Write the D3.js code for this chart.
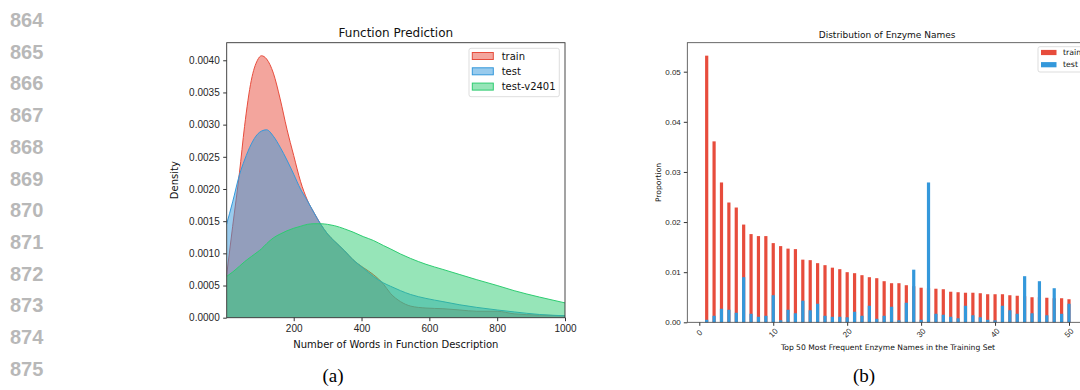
<!DOCTYPE html>
<html>
<head>
<meta charset="utf-8">
<script src="https://cdn.jsdelivr.net/npm/d3@7"></script>
<style>
  body { margin: 0; background: #fff; }
  svg { display: block; font-family: "DejaVu Sans", sans-serif; }
  .tick text { fill: #262626; }
  .tick line { stroke: #333; }
</style>
</head>
<body>
<div class="fig"></div>
<script>
// ---- left panel: word count density (KDE)
const wordCounts = [2, 20, 40, 55, 75, 93, 105, 120, 140, 160, 180, 200, 220, 240, 260, 280, 300, 320, 350, 375, 405, 435, 465, 485, 515, 545, 590, 640, 690, 740, 800, 850, 925, 1000];
const trainDensity = [0.00065, 0.00142, 0.00225, 0.00297, 0.00369, 0.00400, 0.00407, 0.00402, 0.00380, 0.00340, 0.00293, 0.00252, 0.00212, 0.00183, 0.00163, 0.00145, 0.00130, 0.00119, 0.00104, 0.00090, 0.00078, 0.00067, 0.00052, 0.00038, 0.00025, 0.00018, 0.00015, 0.00014, 0.00012, 0.00010, 0.00010, 0.00006, 0.00004, 0.00003];
const testDensity = [0.00145, 0.00180, 0.00222, 0.00245, 0.00270, 0.00285, 0.00290, 0.00292, 0.00282, 0.00265, 0.00245, 0.00223, 0.00200, 0.00182, 0.00163, 0.00145, 0.00130, 0.00119, 0.00104, 0.00090, 0.00077, 0.00064, 0.00054, 0.00049, 0.00042, 0.00036, 0.00030, 0.00025, 0.00020, 0.00016, 0.00012, 0.00009, 0.00005, 0.00003];
const v2401Density = [0.00064, 0.00071, 0.00080, 0.00087, 0.00095, 0.00102, 0.00107, 0.00115, 0.00124, 0.00130, 0.00135, 0.00139, 0.00142, 0.00145, 0.00146, 0.00146, 0.00145, 0.00143, 0.00138, 0.00133, 0.00126, 0.00120, 0.00112, 0.00107, 0.00099, 0.00092, 0.00083, 0.00075, 0.00067, 0.00059, 0.00050, 0.00042, 0.00032, 0.00023];
const densityTicks = [0, 0.0005, 0.001, 0.0015, 0.002, 0.0025, 0.003, 0.0035, 0.004];
const wordTicks = [200, 400, 600, 800, 1000];
const kdeNames = ["train", "test", "test-v2401"];

// ---- right panel: enzyme name proportions
const enzymeRank = [1,2,3,4,5,6,7,8,9,10,11,12,13,14,15,16,17,18,19,20,21,22,23,24,25,26,27,28,29,30,31,32,33,34,35,36,37,38,39,40,41,42,43,44,45,46,47,48,49,50];
const trainProp = [0.0532, 0.0361, 0.0279, 0.0239, 0.0229, 0.0195, 0.0176, 0.0172, 0.0172, 0.0158, 0.0152, 0.0147, 0.0146, 0.0125, 0.0124, 0.0118, 0.0114, 0.0109, 0.0106, 0.0100, 0.0098, 0.0094, 0.0090, 0.0088, 0.0082, 0.0078, 0.0078, 0.0074, 0.0072, 0.0069, 0.0068, 0.0067, 0.0066, 0.0061, 0.0060, 0.0059, 0.0059, 0.0058, 0.0056, 0.0056, 0.0056, 0.0054, 0.0053, 0.0052, 0.0050, 0.0050, 0.0049, 0.0048, 0.0048, 0.0046];
const testProp = [0.0005, 0.0013, 0.0027, 0.0025, 0.0019, 0.0090, 0.0017, 0.0011, 0.0013, 0.0054, 0.0004, 0.0025, 0.0018, 0.0043, 0.0024, 0.0037, 0.0013, 0.0011, 0.0011, 0.0010, 0.0021, 0.0013, 0.0033, 0.0007, 0.0013, 0.0031, 0.0004, 0.0039, 0.0105, 0.0005, 0.0279, 0.0017, 0.0015, 0.0011, 0.0008, 0.0033, 0.0014, 0.0010, 0.0005, 0.0004, 0.0033, 0.0024, 0.0017, 0.0092, 0.0018, 0.0082, 0.0014, 0.0068, 0.0017, 0.0037];
const propTicks = [0, 0.01, 0.02, 0.03, 0.04, 0.05];
const rankTicks = [0, 10, 20, 30, 40, 50];
const barNames = ["train", "test"];

const lineNumbers = [864, 865, 866, 867, 868, 869, 870, 871, 872, 873, 874, 875];

const red = "#e74c3c", blue = "#3498db", green = "#2ecc71";

const svg = d3.select(".fig").append("svg")
    .attr("width", 1080)
    .attr("height", 390);

//line numbers down the margin
svg.selectAll(".ln")
    .data(lineNumbers)
    .enter().append("text")
    .attr("class", "ln")
    .attr("x", 10)
    .attr("y", (d, i) => 27 + i * 31.7)
    .style("font-family", "'Liberation Sans', Arial, sans-serif")
    .style("font-size", "20px")
    .style("font-weight", "bold")
    .style("fill", "#b8b8b8")
    .text(d => d);

// ================= left panel =================
var L = { left: 226.7, right: 565, top: 42.7, bottom: 317.7 };
var xL = d3.scaleLinear().domain([2.4, 1000]).range([L.left, L.right]);
var yL = d3.scaleLinear().domain([0, 0.004273]).range([L.bottom, L.top]);

var gL = svg.append("g");

gL.append("clipPath").attr("id", "clipL")
    .append("rect")
    .attr("x", L.left).attr("y", L.top)
    .attr("width", L.right - L.left).attr("height", L.bottom - L.top);

var series = [trainDensity, testDensity, v2401Density];
var colors = [red, blue, green];

var area = d3.area()
    .x((d, i) => xL(wordCounts[i]))
    .y0(yL(0))
    .y1(d => yL(d))
    .curve(d3.curveMonotoneX);
var line = d3.line()
    .x((d, i) => xL(wordCounts[i]))
    .y(d => yL(d))
    .curve(d3.curveMonotoneX);

var plot = gL.append("g").attr("clip-path", "url(#clipL)");
series.forEach(function (s, k) {
    plot.append("path")
        .attr("d", area(s))
        .style("fill", colors[k])
        .style("fill-opacity", 0.5);
    plot.append("path")
        .attr("d", line(s))
        .style("fill", "none")
        .style("stroke", colors[k])
        .style("stroke-width", 1);
});

gL.append("g")
    .attr("transform", "translate(0," + L.bottom + ")")
    .call(d3.axisBottom(xL).tickValues(wordTicks).tickFormat(d3.format("d")).tickSize(3.5).tickPadding(3.5))
    .call(g => g.select(".domain").remove())
    .selectAll("text").style("font-size", "10px");

gL.append("g")
    .attr("transform", "translate(" + L.left + ",0)")
    .call(d3.axisLeft(yL).tickValues(densityTicks).tickFormat(d3.format(".4f")).tickSize(3.5).tickPadding(3.5))
    .call(g => g.select(".domain").remove())
    .selectAll("text").style("font-size", "10px");

gL.append("rect")
    .attr("x", L.left).attr("y", L.top)
    .attr("width", L.right - L.left).attr("height", L.bottom - L.top)
    .style("fill", "none").style("stroke", "#333").style("stroke-width", 0.9);

gL.append("text")
    .attr("x", (L.left + L.right) / 2).attr("y", 36.5)
    .attr("text-anchor", "middle")
    .style("font-size", "12px").style("fill", "#111")
    .text("Function Prediction");

gL.append("text")
    .attr("x", (L.left + L.right) / 2).attr("y", 348)
    .attr("text-anchor", "middle")
    .style("font-size", "10px").style("fill", "#111")
    .text("Number of Words in Function Description");

gL.append("text")
    .attr("transform", "translate(177.5," + ((L.top + L.bottom) / 2) + ") rotate(-90)")
    .attr("text-anchor", "middle")
    .style("font-size", "10px").style("fill", "#111")
    .text("Density");

//legend
var legL = gL.append("g").attr("transform", "translate(469,48.3)");
legL.append("rect")
    .attr("width", 90.3).attr("height", 48.4).attr("rx", 2)
    .style("fill", "#fff").style("fill-opacity", 0.8)
    .style("stroke", "#d4d4d4").style("stroke-width", 0.8);
kdeNames.forEach(function (n, k) {
    var cy = 7.7 + k * 15.3;
    legL.append("rect")
        .attr("x", 3.3).attr("y", cy - 3.5)
        .attr("width", 21).attr("height", 7)
        .style("fill", colors[k]).style("fill-opacity", 0.5)
        .style("stroke", colors[k]).style("stroke-width", 1);
    legL.append("text")
        .attr("x", 32.7).attr("y", cy + 3.6)
        .style("font-size", "10px").style("fill", "#111")
        .text(n);
});

// ================= right panel =================
var R = { left: 687.3, top: 42.7, bottom: 322.3 };
var xR = d3.scaleLinear().domain([0, 50]).range([699.3, 1069]);
var yR = d3.scaleLinear().domain([0, 0.05]).range([R.bottom, 71.7]);
R.right = xR(51.62);

var gR = svg.append("g");
var barW = 3.2;

gR.selectAll(".train")
    .data(trainProp)
    .enter().append("rect")
    .attr("class", "train")
    .attr("x", (d, i) => xR(enzymeRank[i]) - barW / 2)
    .attr("y", d => yR(d))
    .attr("width", barW)
    .attr("height", d => yR(0) - yR(d))
    .style("fill", red);

gR.selectAll(".test")
    .data(testProp)
    .enter().append("rect")
    .attr("class", "test")
    .attr("x", (d, i) => xR(enzymeRank[i]) - barW / 2)
    .attr("y", d => yR(d))
    .attr("width", barW)
    .attr("height", d => yR(0) - yR(d))
    .style("fill", blue);

var xAxR = gR.append("g")
    .attr("transform", "translate(0," + R.bottom + ")")
    .call(d3.axisBottom(xR).tickValues(rankTicks).tickSize(3.5).tickPadding(0));
xAxR.select(".domain").remove();
xAxR.selectAll("text")
    .attr("y", 0).attr("dy", null)
    .attr("text-anchor", "middle")
    .attr("transform", "translate(0,11) rotate(-45)")
    .attr("dominant-baseline", "middle")
    .style("font-size", "8px");

gR.append("g")
    .attr("transform", "translate(" + R.left + ",0)")
    .call(d3.axisLeft(yR).tickValues(propTicks).tickFormat(d3.format(".2f")).tickSize(3.5).tickPadding(3))
    .call(g => g.select(".domain").remove())
    .selectAll("text").style("font-size", "8px");

gR.append("rect")
    .attr("x", R.left).attr("y", R.top)
    .attr("width", R.right - R.left).attr("height", R.bottom - R.top)
    .style("fill", "none").style("stroke", "#444").style("stroke-width", 0.8);

gR.append("text")
    .attr("x", (R.left + R.right) / 2 + 3).attr("y", 38)
    .attr("text-anchor", "middle")
    .style("font-size", "9px").style("fill", "#111")
    .text("Distribution of Enzyme Names");

gR.append("text")
    .attr("x", 888).attr("y", 350)
    .attr("text-anchor", "middle")
    .style("font-size", "7.6px").style("fill", "#111")
    .text("Top 50 Most Frequent Enzyme Names in the Training Set");

gR.append("text")
    .attr("transform", "translate(660.5," + ((R.top + R.bottom) / 2) + ") rotate(-90)")
    .attr("text-anchor", "middle")
    .style("font-size", "7.6px").style("fill", "#111")
    .text("Proportion");

var legR = gR.append("g").attr("transform", "translate(1038,46.7)");
legR.append("rect")
    .attr("width", 60).attr("height", 25.3).attr("rx", 2)
    .style("fill", "#fff").style("fill-opacity", 0.8)
    .style("stroke", "#d4d4d4").style("stroke-width", 0.8);
barNames.forEach(function (n, k) {
    var cy = 5.8 + k * 12.2;
    legR.append("rect")
        .attr("x", 3).attr("y", cy - 2.6)
        .attr("width", 15.5).attr("height", 5.2)
        .style("fill", k === 0 ? red : blue);
    legR.append("text")
        .attr("x", 25).attr("y", cy + 2.8)
        .style("font-size", "7.8px").style("fill", "#111")
        .text(n);
});

// captions
svg.append("text")
    .attr("x", 333).attr("y", 382)
    .attr("text-anchor", "middle")
    .style("font-family", "'Liberation Serif', 'Times New Roman', serif")
    .style("font-size", "19px")
    .text("(a)");
svg.append("text")
    .attr("x", 864).attr("y", 382)
    .attr("text-anchor", "middle")
    .style("font-family", "'Liberation Serif', 'Times New Roman', serif")
    .style("font-size", "19px")
    .text("(b)");
</script>
</body>
</html>
